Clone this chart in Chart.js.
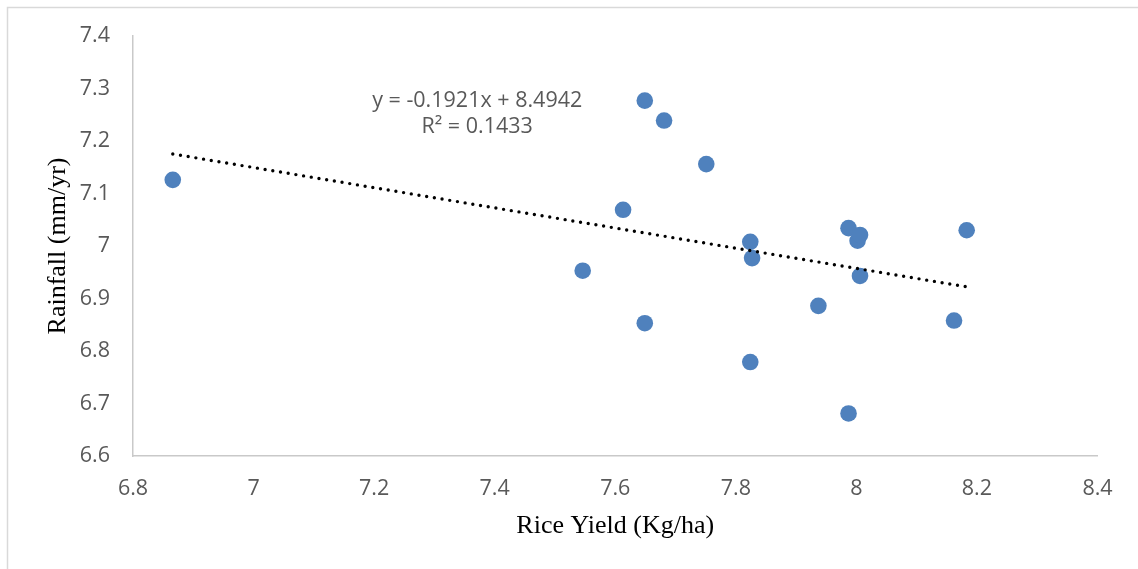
<!DOCTYPE html>
<html lang="en">
<head>
  <meta charset="UTF-8">
  <title>Rice Yield vs Rainfall</title>
  <script src="https://cdn.jsdelivr.net/npm/chart.js"></script>
  <style>
    html, body { margin: 0; padding: 0; background: #fff; }
    #wrap { width: 1138px; height: 569px; }
  </style>
</head>
<body>
  <div id="wrap"><canvas id="grafico"></canvas></div>
  <script>
    // data
    const riceYield = [6.866, 7.546, 7.613, 7.649, 7.649, 7.681, 7.751, 7.824, 7.827, 7.824,
                       7.937, 7.987, 7.987, 8.002, 8.006, 8.006, 8.162, 8.183];
    const rainfall  = [7.126, 6.953, 7.069, 7.277, 6.853, 7.239, 7.156, 7.008, 6.977, 6.779,
                       6.886, 6.681, 7.034, 7.010, 7.021, 6.943, 6.858, 7.030];
    const xTicks = [6.8, 7, 7.2, 7.4, 7.6, 7.8, 8, 8.2, 8.4];
    const yTicks = [6.6, 6.7, 6.8, 6.9, 7, 7.1, 7.2, 7.3, 7.4];
    const slope = -0.1921;
    const intercept = 8.4942;
    const equationLines = ['y = -0.1921x + 8.4942', 'R\u00b2 = 0.1433'];

    const puntos = riceYield.map((x, i) => ({ x: x, y: rainfall[i] }));
    const xMin = Math.min(...riceYield);
    const xMax = Math.max(...riceYield);
    const tendencia = [xMin, xMax].map(x => ({ x: x, y: slope * x + intercept }));

    const tickFont = { family: 'Open Sans', size: 21.5 };
    const gris = '#595959';

    // light frame at top and left, plus the regression text
    const extras = {
      id: 'extras',
      beforeDraw(chart) {
        const ctx = chart.ctx;
        ctx.save();
        ctx.fillStyle = '#fff';
        ctx.fillRect(0, 0, chart.width, chart.height);
        ctx.strokeStyle = '#d9d9d9';
        ctx.lineWidth = 1.5;
        ctx.beginPath();
        ctx.moveTo(7.5, chart.height);
        ctx.lineTo(7.5, 7.5);
        ctx.lineTo(chart.width, 7.5);
        ctx.stroke();
        ctx.restore();
      },
      afterDraw(chart) {
        const ctx = chart.ctx;
        const xs = chart.scales.x, ys = chart.scales.y;
        ctx.save();
        ctx.fillStyle = gris;
        ctx.font = '21.5px "Open Sans"';
        ctx.textAlign = 'center';
        ctx.textBaseline = 'middle';
        const cx = xs.getPixelForValue(7.371);
        ctx.fillText(equationLines[0], cx, ys.getPixelForValue(7.276));
        ctx.fillText(equationLines[1], cx, ys.getPixelForValue(7.226));
        ctx.restore();
      }
    };

    const ctx = document.getElementById('grafico').getContext('2d');
    const grafico = new Chart(ctx, {
      type: 'scatter',
      data: {
        datasets: [{
          type: 'line',
          data: tendencia,
          borderColor: '#000',
          borderWidth: 3.4,
          borderDash: [0, 7.8],
          borderCapStyle: 'round',
          pointRadius: 0,
          fill: false,
          order: 0
        }, {
          data: puntos,
          backgroundColor: '#4f81bd',
          borderWidth: 0,
          pointRadius: 8.3,
          pointHoverRadius: 8.3,
          order: 1
        }]
      },
      options: {
        responsive: true,
        maintainAspectRatio: false,
        animation: false,
        layout: { padding: { left: 20, top: 36, right: 40.5, bottom: 20 } },
        plugins: { legend: { display: false }, tooltip: { enabled: false } },
        scales: {
          x: {
            type: 'linear',
            min: 6.8,
            max: 8.4,
            afterBuildTicks: s => { s.ticks = xTicks.map(v => ({ value: v })); },
            afterFit: s => { s.height = 93; },
            grid: { display: false, drawTicks: false },
            border: { display: true, color: '#c9c9c9', width: 1.5 },
            ticks: { color: gris, font: tickFont, padding: 19.5, maxRotation: 0,
                     callback: v => String(v) },
            title: { display: true, text: 'Rice Yield (Kg/ha)', color: '#000',
                     font: { family: 'Liberation Serif', size: 26 },
                     padding: { top: 0, bottom: 7 } }
          },
          y: {
            type: 'linear',
            min: 6.6,
            max: 7.4,
            afterBuildTicks: s => { s.ticks = yTicks.map(v => ({ value: v })); },
            afterFit: s => { s.width = 113; },
            grid: { display: false, drawTicks: false },
            border: { display: true, color: '#c9c9c9', width: 1.5 },
            ticks: { color: gris, font: tickFont, padding: 23,
                     callback: v => String(v) },
            title: { display: true, text: 'Rainfall (mm/yr)', color: '#000',
                     font: { family: 'Liberation Serif', size: 26 },
                     padding: { top: 23, bottom: 0 } }
          }
        }
      },
      plugins: [extras]
    });
  </script>
</body>
</html>
